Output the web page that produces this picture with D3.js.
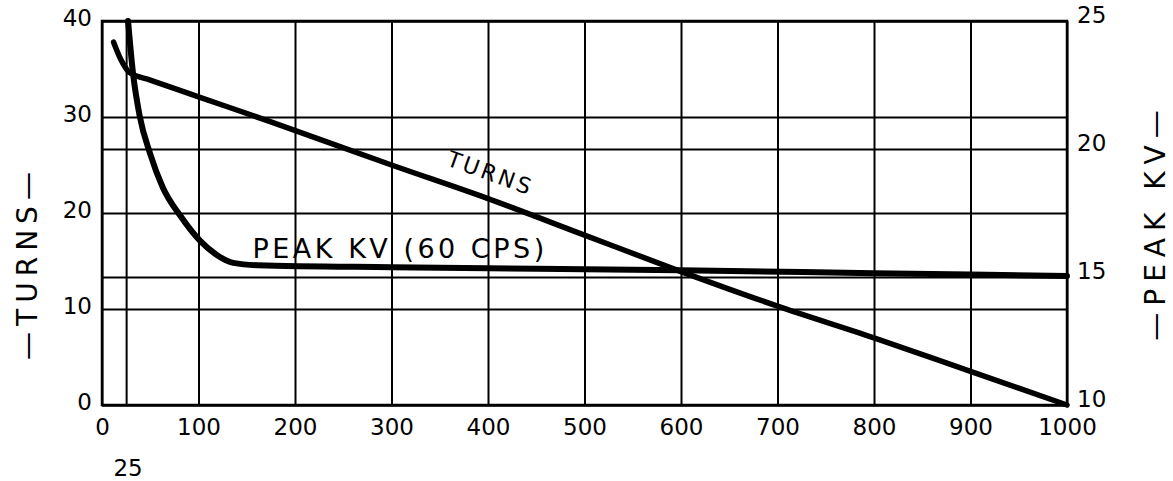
<!DOCTYPE html>
<meta charset="utf-8">
<style>
body { margin: 0; background: #fff; }
text { font-family: "DejaVu Sans", sans-serif; fill: #000; }
.grid line { stroke: #000; stroke-width: 2; }
.grid path { display: none; }
.lbl path, .lbl line { display: none; }
</style>
<svg width="1173" height="481"></svg>
<script src="https://cdn.jsdelivr.net/npm/d3@7"></script>
<script>
// cycles per second on the bottom, turns on the left, peak kV on the right
var xTicks = [0, 100, 200, 300, 400, 500, 600, 700, 800, 900, 1000];
var xGrid = [0, 25, 100, 200, 300, 400, 500, 600, 700, 800, 900, 1000];
var turnTicks = [0, 10, 20, 30, 40];
var kvTicks = [10, 15, 20, 25];

var turns = [
  [12, 37.8], [19, 36.1], [29, 34.6], [50, 33.85], [100, 32.1], [175, 29.5],
  [300, 25.0], [400, 21.5], [500, 17.7], [600, 13.9], [700, 10.3],
  [800, 7.0], [900, 3.5], [1000, 0]
];
var peakKv = [
  [27, 25], [32, 23.0], [39, 21.3], [50, 19.8], [63, 18.5], [81, 17.4],
  [102, 16.4], [119, 15.86], [136, 15.55], [161, 15.46], [300, 15.38],
  [450, 15.32], [600, 15.26], [800, 15.15], [1000, 15.04]
];

var svg = d3.select("svg"),
    pLeft = 102, pRight = 1067, pTop = 21, pBottom = 405;

var x = d3.scaleLinear().domain([0, 1000]).range([pLeft, pRight]);
var yT = d3.scaleLinear().domain([0, 40]).range([pBottom, pTop]);
var yK = d3.scaleLinear().domain([10, 25]).range([pBottom, pTop]);

// grid
svg.append("g").attr("class", "grid")
  .attr("transform", "translate(0," + pBottom + ")")
  .call(d3.axisBottom(x).tickValues(xGrid).tickSize(-(pBottom - pTop)).tickFormat(""));
svg.append("g").attr("class", "grid")
  .attr("transform", "translate(" + pLeft + ",0)")
  .call(d3.axisLeft(yT).tickValues(turnTicks).tickSize(-(pRight - pLeft)).tickFormat(""));
svg.append("g").attr("class", "grid")
  .attr("transform", "translate(" + pLeft + ",0)")
  .call(d3.axisLeft(yK).tickValues(kvTicks).tickSize(-(pRight - pLeft)).tickFormat(""));

svg.append("rect")
  .attr("x", pLeft).attr("y", pTop)
  .attr("width", pRight - pLeft).attr("height", pBottom - pTop)
  .attr("fill", "none").attr("stroke", "#000").attr("stroke-width", 2.5);

// tick labels
var xl = svg.append("g").attr("class", "lbl")
  .attr("transform", "translate(0," + (pBottom + 10) + ")")
  .call(d3.axisBottom(x).tickValues(xTicks).tickSize(0).tickPadding(4).tickFormat(d3.format("d")));
xl.selectAll("text").style("font-size", "23px");

svg.append("text")
  .attr("x", x(25) + 2).attr("y", 476)
  .attr("text-anchor", "middle").style("font-size", "23px")
  .text("25");

var ylT = svg.append("g").attr("class", "lbl")
  .attr("transform", "translate(" + (pLeft - 8) + ",0)")
  .call(d3.axisLeft(yT).tickValues(turnTicks).tickSize(0).tickPadding(2));
ylT.selectAll("text").style("font-size", "23px").attr("dy", "0.2em");

var ylK = svg.append("g").attr("class", "lbl")
  .attr("transform", "translate(" + (pRight + 10) + ",0)")
  .call(d3.axisRight(yK).tickValues(kvTicks).tickSize(0).tickPadding(0));
ylK.selectAll("text").style("font-size", "23px").attr("dy", "0.05em");

// curves
var lineT = d3.line().x(function(d) { return x(d[0]); }).y(function(d) { return yT(d[1]); })
  .curve(d3.curveMonotoneX);
var lineK = d3.line().x(function(d) { return x(d[0]); }).y(function(d) { return yK(d[1]); })
  .curve(d3.curveMonotoneX);

svg.append("path").datum(turns).attr("d", lineT)
  .attr("fill", "none").attr("stroke", "#000").attr("stroke-width", 5.5)
  .attr("stroke-linecap", "round");
svg.append("path").datum(peakKv).attr("d", lineK)
  .attr("fill", "none").attr("stroke", "#000").attr("stroke-width", 6)
  .attr("stroke-linecap", "round");

// curve labels
var ang = Math.atan2(yT(17.7) - yT(25), x(500) - x(300)) * 180 / Math.PI;
svg.append("text")
  .attr("transform", "translate(" + x(400) + "," + yT(23.4) + ") rotate(" + ang + ")")
  .attr("text-anchor", "middle").style("font-size", "22px")
  .style("letter-spacing", "3px")
  .text("TURNS");

svg.append("text")
  .attr("x", x(156)).attr("y", yK(15.75))
  .style("font-size", "27px").style("letter-spacing", "3.5px")
  .text("PEAK KV (60 CPS)");

// axis titles
svg.append("text")
  .attr("transform", "translate(37,263) rotate(-90)")
  .attr("text-anchor", "middle").style("font-size", "28px")
  .style("letter-spacing", "6px")
  .text("\u2014TURNS\u2014");
svg.append("text")
  .attr("transform", "translate(1165,222) rotate(-90)")
  .attr("text-anchor", "middle").style("font-size", "28px")
  .style("letter-spacing", "7px")
  .text("\u2014PEAK KV\u2014");
</script>
